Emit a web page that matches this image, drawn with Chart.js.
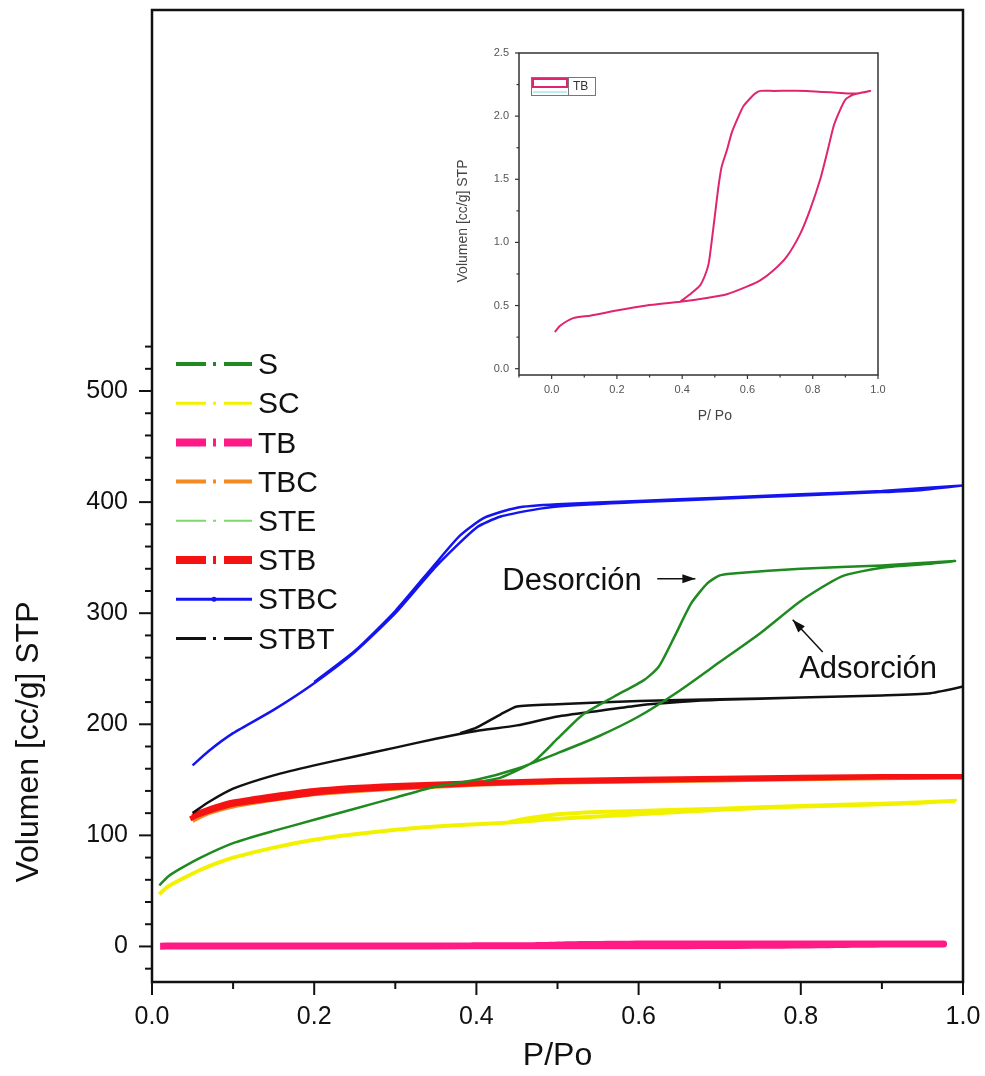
<!DOCTYPE html>
<html>
<head>
<meta charset="utf-8">
<script src="https://cdn.jsdelivr.net/npm/chart.js@4/dist/chart.umd.min.js"></script>
<style>
  html, body { margin: 0; padding: 0; background: #fff; }
  #wrap { position: relative; width: 985px; height: 1076px; overflow: hidden; }
  #mainChart { position: absolute; left: 0; top: 0; }
  #insetChart { position: absolute; left: 440px; top: 30px; }
</style>
</head>
<body>
<div id="wrap">
  <canvas id="mainChart" width="985" height="1076"></canvas>
  <canvas id="insetChart" width="460" height="410"></canvas>
</div>
<script>
// ---- data (adsorption branch, then desorption back) ----
const sampleNames = ['S', 'SC', 'TB', 'TBC', 'STE', 'STB', 'STBC', 'STBT'];

const sX = [0.009, 0.02, 0.035, 0.06, 0.1, 0.15, 0.2, 0.25, 0.3, 0.35, 0.4, 0.45, 0.5, 0.55, 0.6, 0.65, 0.7, 0.75, 0.8, 0.85, 0.9, 0.95, 0.99,
            0.9, 0.8, 0.72, 0.7, 0.685, 0.665, 0.645, 0.625, 0.607, 0.57, 0.53, 0.5, 0.47, 0.43, 0.41];
const sY = [55, 63, 70, 80, 93, 104, 114, 124, 134, 144, 150, 160, 174, 189, 207, 230, 256, 282, 311, 333, 341, 344, 347,
            343, 340, 336, 334, 327, 309, 280, 252, 240, 225, 208, 187, 166, 152, 149];

const scX = [0.009, 0.02, 0.035, 0.06, 0.08, 0.1, 0.15, 0.2, 0.25, 0.3, 0.35, 0.4, 0.45, 0.5, 0.6, 0.7, 0.8, 0.9, 0.99,
             0.9, 0.8, 0.7, 0.6, 0.55, 0.5, 0.47, 0.44];
const scY = [47, 54, 60, 69, 75, 80, 89, 96, 101, 105, 108, 110, 112, 115, 119, 123, 126, 128, 131,
             128.5, 126.5, 124, 122, 121, 119, 116, 112];

// TB is the same series in the main plot and in the inset
const tbX = [0.01, 0.026, 0.066, 0.118, 0.199, 0.291, 0.394, 0.475, 0.537, 0.598, 0.639, 0.68, 0.721, 0.762, 0.792, 0.823, 0.844, 0.864, 0.879, 0.9, 0.925, 0.956, 0.976,
             0.936, 0.905, 0.782, 0.68, 0.639, 0.624, 0.608, 0.588, 0.573, 0.552, 0.537, 0.521, 0.511, 0.501, 0.491, 0.481, 0.47, 0.455, 0.429, 0.394];
const tbY = [0.29, 0.34, 0.40, 0.42, 0.46, 0.50, 0.53, 0.56, 0.59, 0.65, 0.70, 0.78, 0.89, 1.07, 1.26, 1.50, 1.71, 1.92, 2.02, 2.13, 2.17, 2.19, 2.20,
             2.18, 2.18, 2.20, 2.20, 2.20, 2.18, 2.14, 2.08, 2.00, 1.87, 1.73, 1.60, 1.44, 1.23, 1.02, 0.83, 0.74, 0.66, 0.60, 0.53];

const tbcX = [0.05, 0.07, 0.1, 0.15, 0.2, 0.3, 0.4, 0.5, 0.6, 0.7, 0.8, 0.9, 1.0, 0.9, 0.7, 0.5, 0.3, 0.2, 0.1, 0.06];
const tbcY = [113, 120, 126, 132, 137, 142, 145.5, 147.5, 148.5, 149.5, 150.5, 151.5, 152, 152, 150.5, 148.5, 144, 140, 129, 119];

const steX = [0.05, 0.07, 0.1, 0.15, 0.2, 0.3, 0.4, 0.5, 0.6, 0.7, 0.8, 0.9, 1.0];
const steY = [116, 122, 128, 134, 139, 144, 147, 149, 150, 151, 151.5, 152, 152.5];

const stbX = [0.047, 0.06, 0.08, 0.1, 0.15, 0.2, 0.25, 0.3, 0.4, 0.5, 0.6, 0.7, 0.8, 0.9, 1.0, 0.9, 0.7, 0.5, 0.3, 0.2, 0.1, 0.06, 0.05];
const stbY = [115, 119, 124, 128, 133, 138, 141, 143, 146.5, 148.5, 149.5, 150.5, 151.5, 152.5, 153, 153, 151.5, 149.5, 145, 140.5, 130, 121, 117];

const stbcX = [0.05, 0.07, 0.1, 0.15, 0.2, 0.25, 0.3, 0.35, 0.4, 0.43, 0.47, 0.5, 0.6, 0.7, 0.8, 0.9, 0.95, 1.0,
               0.9, 0.8, 0.7, 0.6, 0.5, 0.45, 0.41, 0.38, 0.35, 0.3, 0.25, 0.2];
const stbcY = [163, 176, 192, 213, 237, 265, 300, 342, 377, 387, 393, 396, 400, 403, 406, 409, 411, 415,
               410, 407, 404, 401, 398, 395, 386, 370, 345, 302, 266, 238];

const stbtX = [0.05, 0.07, 0.1, 0.15, 0.2, 0.25, 0.3, 0.35, 0.4, 0.45, 0.5, 0.55, 0.6, 0.65, 0.7, 0.8, 0.9, 0.96, 1.0,
               0.96, 0.9, 0.8, 0.7, 0.6, 0.5, 0.45, 0.43, 0.4, 0.38];
const stbtY = [120, 130, 142, 154, 163, 171, 179, 187, 194, 199, 207, 212, 217, 220, 222, 224, 226, 228, 234,
               228, 226, 224, 222.5, 221, 218, 216, 209, 197, 192];

// ticks
const mainXTicks = [0, 0.1, 0.2, 0.3, 0.4, 0.5, 0.6, 0.7, 0.8, 0.9, 1.0];
const mainYTicks = [-20, 0, 20, 40, 60, 80, 100, 120, 140, 160, 180, 200, 220, 240, 260, 280, 300,
                    320, 340, 360, 380, 400, 420, 440, 460, 480, 500, 520, 540];
const insetXTicks = [-0.1, 0, 0.1, 0.2, 0.3, 0.4, 0.5, 0.6, 0.7, 0.8, 0.9, 1.0];
const insetYTicks = [0, 0.25, 0.5, 0.75, 1.0, 1.25, 1.5, 1.75, 2.0, 2.25, 2.5];

// styles
const sampleColors = ['#1f8a1f', '#f2f200', '#ff1a86', '#f38a22', '#7ed86e', '#f41212', '#1414ee', '#111111'];
const lineWidths   = [2.5, 4, 7, 4, 2, 5, 2.5, 2.5];
const legendWidths = [4, 3, 8, 4, 2, 8, 3, 3];
const drawOrder    = [1, 8, 4, 7, 6, 5, 2, 3];

const FONT = '"Liberation Sans", Arial, sans-serif';
Chart.defaults.font.family = FONT;
Chart.defaults.color = '#111';

function toPoints(xs, ys) {
    return xs.map((x, i) => ({ x: x, y: ys[i] }));
}

const seriesX = [sX, scX, tbX, tbcX, steX, stbX, stbcX, stbtX];
const seriesY = [sY, scY, tbY, tbcY, steY, stbY, stbcY, stbtY];

// keep the plot area where the layout padding puts it (no room kept for label overhang)
function noOverhang(s) {
    s.paddingTop = 0; s.paddingBottom = 0; s.paddingLeft = 0; s.paddingRight = 0;
}

// draws outward tick marks, long for labelled ticks, short for the others
function tickMarks(major, minor, width, color) {
    return {
        id: 'tickMarks',
        afterDraw(chart) {
            const ctx = chart.ctx;
            const xs = chart.scales.x, ys = chart.scales.y;
            const area = chart.chartArea;
            ctx.save();
            ctx.strokeStyle = color;
            ctx.lineWidth = width;
            xs.ticks.forEach(t => {
                const len = xs.options.ticks.callback(t.value) ? major : minor;
                const px = xs.getPixelForValue(t.value);
                ctx.beginPath(); ctx.moveTo(px, area.bottom); ctx.lineTo(px, area.bottom + len); ctx.stroke();
            });
            ys.ticks.forEach(t => {
                const len = ys.options.ticks.callback(t.value) ? major : minor;
                const py = ys.getPixelForValue(t.value);
                ctx.beginPath(); ctx.moveTo(area.left, py); ctx.lineTo(area.left - len, py); ctx.stroke();
            });
            ctx.restore();
        }
    };
}

function frame(width, color) {
    return {
        id: 'frame',
        afterDraw(chart) {
            const a = chart.chartArea, ctx = chart.ctx;
            ctx.save();
            ctx.strokeStyle = color;
            ctx.lineWidth = width;
            ctx.strokeRect(a.left, a.top, a.right - a.left, a.bottom - a.top);
            ctx.restore();
        }
    };
}

function arrow(ctx, x1, y1, x2, y2) {
    const ang = Math.atan2(y2 - y1, x2 - x1);
    ctx.beginPath(); ctx.moveTo(x1, y1); ctx.lineTo(x2, y2); ctx.stroke();
    ctx.beginPath();
    ctx.moveTo(x2, y2);
    ctx.lineTo(x2 - 13 * Math.cos(ang) + 4.5 * Math.sin(ang), y2 - 13 * Math.sin(ang) - 4.5 * Math.cos(ang));
    ctx.lineTo(x2 - 13 * Math.cos(ang) - 4.5 * Math.sin(ang), y2 - 13 * Math.sin(ang) + 4.5 * Math.cos(ang));
    ctx.closePath();
    ctx.fill();
}

// legend, axis titles and the two labelled arrows of the main plot
const mainDecor = {
    id: 'mainDecor',
    afterDraw(chart) {
        const ctx = chart.ctx;
        const xs = chart.scales.x, ys = chart.scales.y;
        ctx.save();
        ctx.fillStyle = '#111';

        // legend
        ctx.font = '30px ' + FONT;
        ctx.textBaseline = 'middle';
        ctx.textAlign = 'left';
        sampleNames.forEach((name, i) => {
            const y = 364 + i * 39.2;
            ctx.strokeStyle = sampleColors[i];
            ctx.lineWidth = legendWidths[i];
            ctx.setLineDash(name === 'STBC' ? [] : [30, 7, 3, 8]);
            ctx.beginPath(); ctx.moveTo(176, y); ctx.lineTo(252, y); ctx.stroke();
            ctx.setLineDash([]);
            if (name === 'STBC') {
                ctx.fillStyle = sampleColors[i];
                ctx.beginPath(); ctx.arc(214, y, 2.5, 0, Math.PI * 2); ctx.fill();
            }
            ctx.fillStyle = '#111';
            ctx.fillText(name, 258, y + 2);
        });

        // axis titles
        ctx.font = '32px ' + FONT;
        ctx.textAlign = 'center';
        ctx.fillText('P/Po', (xs.getPixelForValue(0) + xs.getPixelForValue(1)) / 2, 1056);
        ctx.save();
        ctx.translate(29, 742);
        ctx.rotate(-Math.PI / 2);
        ctx.fillText('Volumen [cc/g] STP', 0, 0);
        ctx.restore();

        // annotations
        ctx.font = '31px ' + FONT;
        ctx.textAlign = 'right';
        ctx.fillText('Desorción', xs.getPixelForValue(0.604), ys.getPixelForValue(329));
        ctx.textAlign = 'left';
        ctx.fillText('Adsorción', xs.getPixelForValue(0.798), ys.getPixelForValue(249));
        ctx.strokeStyle = '#111';
        ctx.lineWidth = 1.5;
        arrow(ctx, xs.getPixelForValue(0.623), ys.getPixelForValue(331), xs.getPixelForValue(0.670), ys.getPixelForValue(331));
        arrow(ctx, xs.getPixelForValue(0.827), ys.getPixelForValue(265), xs.getPixelForValue(0.790), ys.getPixelForValue(294));
        ctx.restore();
    }
};

function mainLabelX(v) {
    return Math.round(v * 10) % 2 === 0 ? v.toFixed(1) : '';
}
function mainLabelY(v) {
    return v % 100 === 0 ? String(v) : '';
}

new Chart(document.getElementById('mainChart'), {
    type: 'scatter',
    data: {
        datasets: sampleNames.map((name, i) => ({
            label: name,
            data: toPoints(seriesX[i], seriesY[i]),
            showLine: true,
            borderColor: sampleColors[i],
            backgroundColor: sampleColors[i],
            borderWidth: lineWidths[i],
            pointRadius: 0,
            tension: 0.2,
            order: drawOrder[i]
        }))
    },
    options: {
        responsive: false,
        animation: false,
        layout: { padding: { left: 0, top: 10, right: 22, bottom: 0 } },
        plugins: { legend: { display: false }, tooltip: { enabled: false } },
        scales: {
            x: {
                type: 'linear', min: 0, max: 1,
                afterBuildTicks: s => { s.ticks = mainXTicks.map(v => ({ value: v })); },
                afterFit: s => { s.height = 94; noOverhang(s); },
                ticks: { callback: mainLabelX, autoSkip: false, maxRotation: 0, padding: 7, font: { size: 25 }, color: '#111' },
                grid: { drawOnChartArea: false, tickLength: 13, tickColor: 'rgba(0,0,0,0)' },
                border: { display: false }
            },
            y: {
                type: 'linear', min: -32, max: 843,
                afterBuildTicks: s => { s.ticks = mainYTicks.map(v => ({ value: v })); },
                afterFit: s => { s.width = 152; noOverhang(s); },
                ticks: { callback: mainLabelY, autoSkip: false, padding: 11, font: { size: 25 }, color: '#111' },
                grid: { drawOnChartArea: false, tickLength: 13, tickColor: 'rgba(0,0,0,0)' },
                border: { display: false }
            }
        }
    },
    plugins: [frame(2.5, '#111'), tickMarks(13, 7, 2, '#111'), mainDecor]
});

// ---- inset: TB alone ----
const insetDecor = {
    id: 'insetDecor',
    afterDraw(chart) {
        const ctx = chart.ctx;
        const xs = chart.scales.x;
        ctx.save();
        ctx.fillStyle = '#444';
        ctx.font = '14px ' + FONT;
        ctx.textAlign = 'center';
        ctx.textBaseline = 'middle';
        ctx.fillText('P/ Po', (xs.getPixelForValue(0) + xs.getPixelForValue(1)) / 2, 386);
        ctx.save();
        ctx.translate(23, 191);
        ctx.rotate(-Math.PI / 2);
        ctx.fillText('Volumen [cc/g] STP', 0, 0);
        ctx.restore();

        // legend box
        ctx.strokeStyle = '#777';
        ctx.lineWidth = 1;
        ctx.strokeRect(91.5, 47.5, 64, 18);
        ctx.beginPath(); ctx.moveTo(128.5, 47.5); ctx.lineTo(128.5, 65.5); ctx.stroke();
        ctx.strokeStyle = '#e0246f';
        ctx.lineWidth = 2;
        ctx.strokeRect(93, 49, 34, 8);
        ctx.strokeStyle = '#b8f0f0';
        ctx.beginPath(); ctx.moveTo(93, 62); ctx.lineTo(127, 62); ctx.stroke();
        ctx.fillStyle = '#333';
        ctx.font = '12px ' + FONT;
        ctx.textAlign = 'left';
        ctx.fillText('TB', 133, 57);
        ctx.restore();
    }
};

function insetLabelX(v) {
    const k = Math.round(v * 10);
    return k >= 0 && k % 2 === 0 ? v.toFixed(1) : '';
}
function insetLabelY(v) {
    return Math.round(v * 100) % 50 === 0 ? v.toFixed(1) : '';
}

new Chart(document.getElementById('insetChart'), {
    type: 'scatter',
    data: {
        datasets: [{
            label: 'TB',
            data: toPoints(tbX, tbY),
            showLine: true,
            borderColor: '#e0246f',
            borderWidth: 2,
            pointRadius: 0,
            tension: 0.2
        }]
    },
    options: {
        responsive: false,
        animation: false,
        layout: { padding: { left: 0, top: 23, right: 22, bottom: 0 } },
        plugins: { legend: { display: false }, tooltip: { enabled: false } },
        scales: {
            x: {
                type: 'linear', min: -0.1, max: 1.0,
                afterBuildTicks: s => { s.ticks = insetXTicks.map(v => ({ value: v })); },
                afterFit: s => { s.height = 65; noOverhang(s); },
                ticks: { callback: insetLabelX, autoSkip: false, maxRotation: 0, padding: 4, font: { size: 11 }, color: '#555' },
                grid: { drawOnChartArea: false, tickLength: 4, tickColor: 'rgba(0,0,0,0)' },
                border: { display: false }
            },
            y: {
                type: 'linear', min: -0.05, max: 2.5,
                afterBuildTicks: s => { s.ticks = insetYTicks.map(v => ({ value: v })); },
                afterFit: s => { s.width = 79; noOverhang(s); },
                ticks: { callback: insetLabelY, autoSkip: false, padding: 6, font: { size: 11 }, color: '#555' },
                grid: { drawOnChartArea: false, tickLength: 4, tickColor: 'rgba(0,0,0,0)' },
                border: { display: false }
            }
        }
    },
    plugins: [frame(1.5, '#333'), tickMarks(4, 2.5, 1.2, '#333'), insetDecor]
});
</script>
</body>
</html>
